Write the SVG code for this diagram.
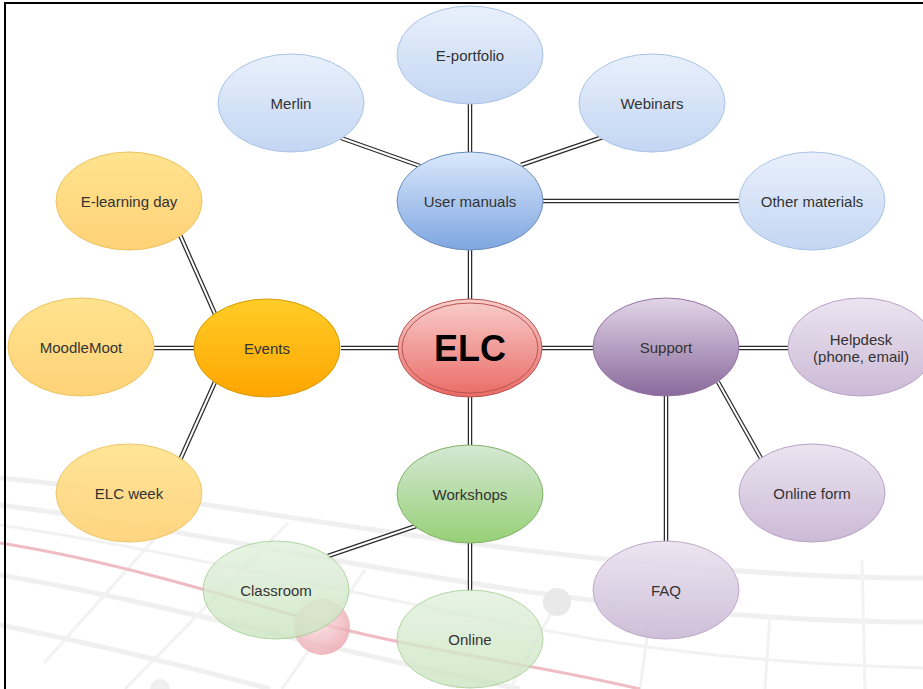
<svg xmlns="http://www.w3.org/2000/svg" width="923" height="689" viewBox="0 0 923 689">
<style>
  text{font-family:"Liberation Sans",Arial,sans-serif;font-size:15px;fill:#333;text-anchor:middle;dominant-baseline:central}
  .elc{font-size:36px;font-weight:bold;fill:#000}
  .bg{fill:none;stroke:#f0f0f0;stroke-width:5}
  .bg2{fill:none;stroke:#f2f2f2;stroke-width:3}
  .co{fill:none;stroke:#2b2b2b;stroke-width:4.5}
  .ci{fill:none;stroke:#fff;stroke-width:2}
</style>
<defs>
  <linearGradient id="gBlue" x1="0" y1="0" x2="0" y2="1"><stop offset="0" stop-color="#dae8fc"/><stop offset="1" stop-color="#7ea6e0"/></linearGradient>
  <linearGradient id="gBlueL" x1="0" y1="0" x2="0" y2="1"><stop offset="0" stop-color="#e9f0fc"/><stop offset="1" stop-color="#c3d6f2"/></linearGradient>
  <linearGradient id="gOr" x1="0" y1="0" x2="0" y2="1"><stop offset="0" stop-color="#ffcd28"/><stop offset="1" stop-color="#ffa500"/></linearGradient>
  <linearGradient id="gOrL" x1="0" y1="0" x2="0" y2="1"><stop offset="0" stop-color="#ffe38f"/><stop offset="1" stop-color="#ffd277"/></linearGradient>
  <linearGradient id="gGr" x1="0" y1="0" x2="0" y2="1"><stop offset="0" stop-color="#d5e8d4"/><stop offset="1" stop-color="#97d077"/></linearGradient>
  <linearGradient id="gGrL" x1="0" y1="0" x2="0" y2="1"><stop offset="0" stop-color="#e2f0de"/><stop offset="1" stop-color="#cbe5c0"/></linearGradient>
  <linearGradient id="gPu" x1="0" y1="0" x2="0" y2="1"><stop offset="0" stop-color="#e1d5e7"/><stop offset="1" stop-color="#8a6a9c"/></linearGradient>
  <linearGradient id="gPuL" x1="0" y1="0" x2="0" y2="1"><stop offset="0" stop-color="#ece4f0"/><stop offset="1" stop-color="#cbbad6"/></linearGradient>
  <linearGradient id="gRed" x1="0" y1="0" x2="0" y2="1"><stop offset="0" stop-color="#f8cecc"/><stop offset="1" stop-color="#ea6b66"/></linearGradient>
  <radialGradient id="gSph" cx="0.4" cy="0.35" r="0.7"><stop offset="0" stop-color="#fbe3e6"/><stop offset="1" stop-color="#eaa2ab"/></radialGradient>
</defs>

<g id="background">
  <rect x="0" y="0" width="923" height="689" fill="#fff"/>
  <path class="bg" d="M0,478 C180,495 420,545 700,568 C800,576 880,578 923,578"/>
  <path class="bg" d="M0,505 C200,530 450,590 700,612 C800,620 880,622 923,622"/>
  <path class="bg2" d="M0,525 C200,555 420,610 600,640 C700,656 820,665 923,668"/>
  <path class="bg" d="M0,575 C150,600 330,650 520,689"/>
  <path class="bg" d="M0,625 C100,645 200,670 270,689"/>
  <path class="bg2" d="M44,663 L165,527"/>
  <path class="bg2" d="M125,689 L288,523"/>
  <path class="bg2" d="M282,689 L365,570"/>
  <path class="bg2" d="M510,689 L557,602"/>
  <path class="bg2" d="M765,689 L770,615"/>
  <path class="bg2" d="M865,689 L862,560"/>
  <path class="bg2" d="M640,689 L650,615"/>
  <path d="M0,543 C120,562 240,600 330,626 C430,652 540,665 640,689" fill="none" stroke="#eebcc2" stroke-width="3"/>
  <circle cx="557" cy="602" r="14" fill="#e9e9e9"/>
  <circle cx="160" cy="689" r="10" fill="#efefef"/>
  <circle cx="322" cy="627" r="28" fill="url(#gSph)" opacity="0.8"/>
</g>

<rect x="5" y="3" width="940" height="700" fill="none" stroke="#000" stroke-width="2"/>

<g id="connectors">
  <path class="co" d="M470,250 V300"/><path class="ci" d="M470,250 V300"/>
  <path class="co" d="M470,396 V445"/><path class="ci" d="M470,396 V445"/>
  <path class="co" d="M341,348 H399"/><path class="ci" d="M341,348 H399"/>
  <path class="co" d="M542,348 H593"/><path class="ci" d="M542,348 H593"/>
  <path class="co" d="M470,104 V152"/><path class="ci" d="M470,104 V152"/>
  <path class="co" d="M420,166 L341,138"/><path class="ci" d="M420,166 L341,138"/>
  <path class="co" d="M521,165 L603,137"/><path class="ci" d="M521,165 L603,137"/>
  <path class="co" d="M543,201 H739"/><path class="ci" d="M543,201 H739"/>
  <path class="co" d="M215,314 L180,235"/><path class="ci" d="M215,314 L180,235"/>
  <path class="co" d="M154,348 H194"/><path class="ci" d="M154,348 H194"/>
  <path class="co" d="M215,382 L180,460"/><path class="ci" d="M215,382 L180,460"/>
  <path class="co" d="M739,348 H788"/><path class="ci" d="M739,348 H788"/>
  <path class="co" d="M666,396 V542"/><path class="ci" d="M666,396 V542"/>
  <path class="co" d="M718,382 L762,460"/><path class="ci" d="M718,382 L762,460"/>
  <path class="co" d="M419,525 L328,556"/><path class="ci" d="M419,525 L328,556"/>
  <path class="co" d="M470,543 V591"/><path class="ci" d="M470,543 V591"/>
</g>

<g id="n-elc">
  <ellipse cx="470" cy="348" rx="72" ry="49" fill="url(#gRed)" stroke="#b85450" stroke-width="1"/>
  <ellipse cx="470" cy="348" rx="68" ry="45" fill="none" stroke="#b85450" stroke-width="1"/>
  <text class="elc" x="470" y="348">ELC</text>
</g>
<g id="n-usermanuals">
  <ellipse cx="470" cy="201" rx="73" ry="49" fill="url(#gBlue)" stroke="#6c8ebf"/>
  <text x="470" y="201">User manuals</text>
</g>
<g id="n-eportfolio">
  <ellipse cx="470" cy="55" rx="73" ry="49" fill="url(#gBlueL)" stroke="#a9c3e8"/>
  <text x="470" y="55">E-portfolio</text>
</g>
<g id="n-merlin">
  <ellipse cx="291" cy="103" rx="73" ry="49" fill="url(#gBlueL)" stroke="#a9c3e8"/>
  <text x="291" y="103">Merlin</text>
</g>
<g id="n-webinars">
  <ellipse cx="652" cy="103" rx="73" ry="49" fill="url(#gBlueL)" stroke="#a9c3e8"/>
  <text x="652" y="103">Webinars</text>
</g>
<g id="n-othermaterials">
  <ellipse cx="812" cy="201" rx="73" ry="49" fill="url(#gBlueL)" stroke="#a9c3e8"/>
  <text x="812" y="201">Other materials</text>
</g>
<g id="n-events">
  <ellipse cx="267" cy="348" rx="73" ry="49" fill="url(#gOr)" stroke="#d79b00"/>
  <text x="267" y="348">Events</text>
</g>
<g id="n-elearningday">
  <ellipse cx="129" cy="201" rx="73" ry="49" fill="url(#gOrL)" stroke="#ecc35f"/>
  <text x="129" y="201">E-learning day</text>
</g>
<g id="n-moodlemoot">
  <ellipse cx="81" cy="347" rx="73" ry="49" fill="url(#gOrL)" stroke="#ecc35f"/>
  <text x="81" y="347">MoodleMoot</text>
</g>
<g id="n-elcweek">
  <ellipse cx="129" cy="493" rx="73" ry="49" fill="url(#gOrL)" stroke="#ecc35f" opacity="0.92"/>
  <text x="129" y="493">ELC week</text>
</g>
<g id="n-support">
  <ellipse cx="666" cy="347" rx="73" ry="49" fill="url(#gPu)" stroke="#9673a6"/>
  <text x="666" y="347">Support</text>
</g>
<g id="n-helpdesk">
  <ellipse cx="861" cy="347" rx="73" ry="49" fill="url(#gPuL)" stroke="#b9a2c6"/>
  <text x="861" y="339">Helpdesk</text>
  <text x="861" y="356">(phone, email)</text>
</g>
<g id="n-onlineform">
  <ellipse cx="812" cy="493" rx="73" ry="49" fill="url(#gPuL)" stroke="#b9a2c6"/>
  <text x="812" y="493">Online form</text>
</g>
<g id="n-faq">
  <ellipse cx="666" cy="590" rx="73" ry="49" fill="url(#gPuL)" stroke="#b9a2c6" opacity="0.92"/>
  <text x="666" y="590">FAQ</text>
</g>
<g id="n-workshops">
  <ellipse cx="470" cy="494" rx="73" ry="49" fill="url(#gGr)" stroke="#82b366"/>
  <text x="470" y="494">Workshops</text>
</g>
<g id="n-classroom">
  <ellipse cx="276" cy="590" rx="73" ry="49" fill="url(#gGrL)" stroke="#9fcc8c" opacity="0.8"/>
  <text x="276" y="590">Classroom</text>
</g>
<g id="n-online">
  <ellipse cx="470" cy="639" rx="73" ry="49" fill="url(#gGrL)" stroke="#9fcc8c" opacity="0.8"/>
  <text x="470" y="639">Online</text>
</g>
</svg>
